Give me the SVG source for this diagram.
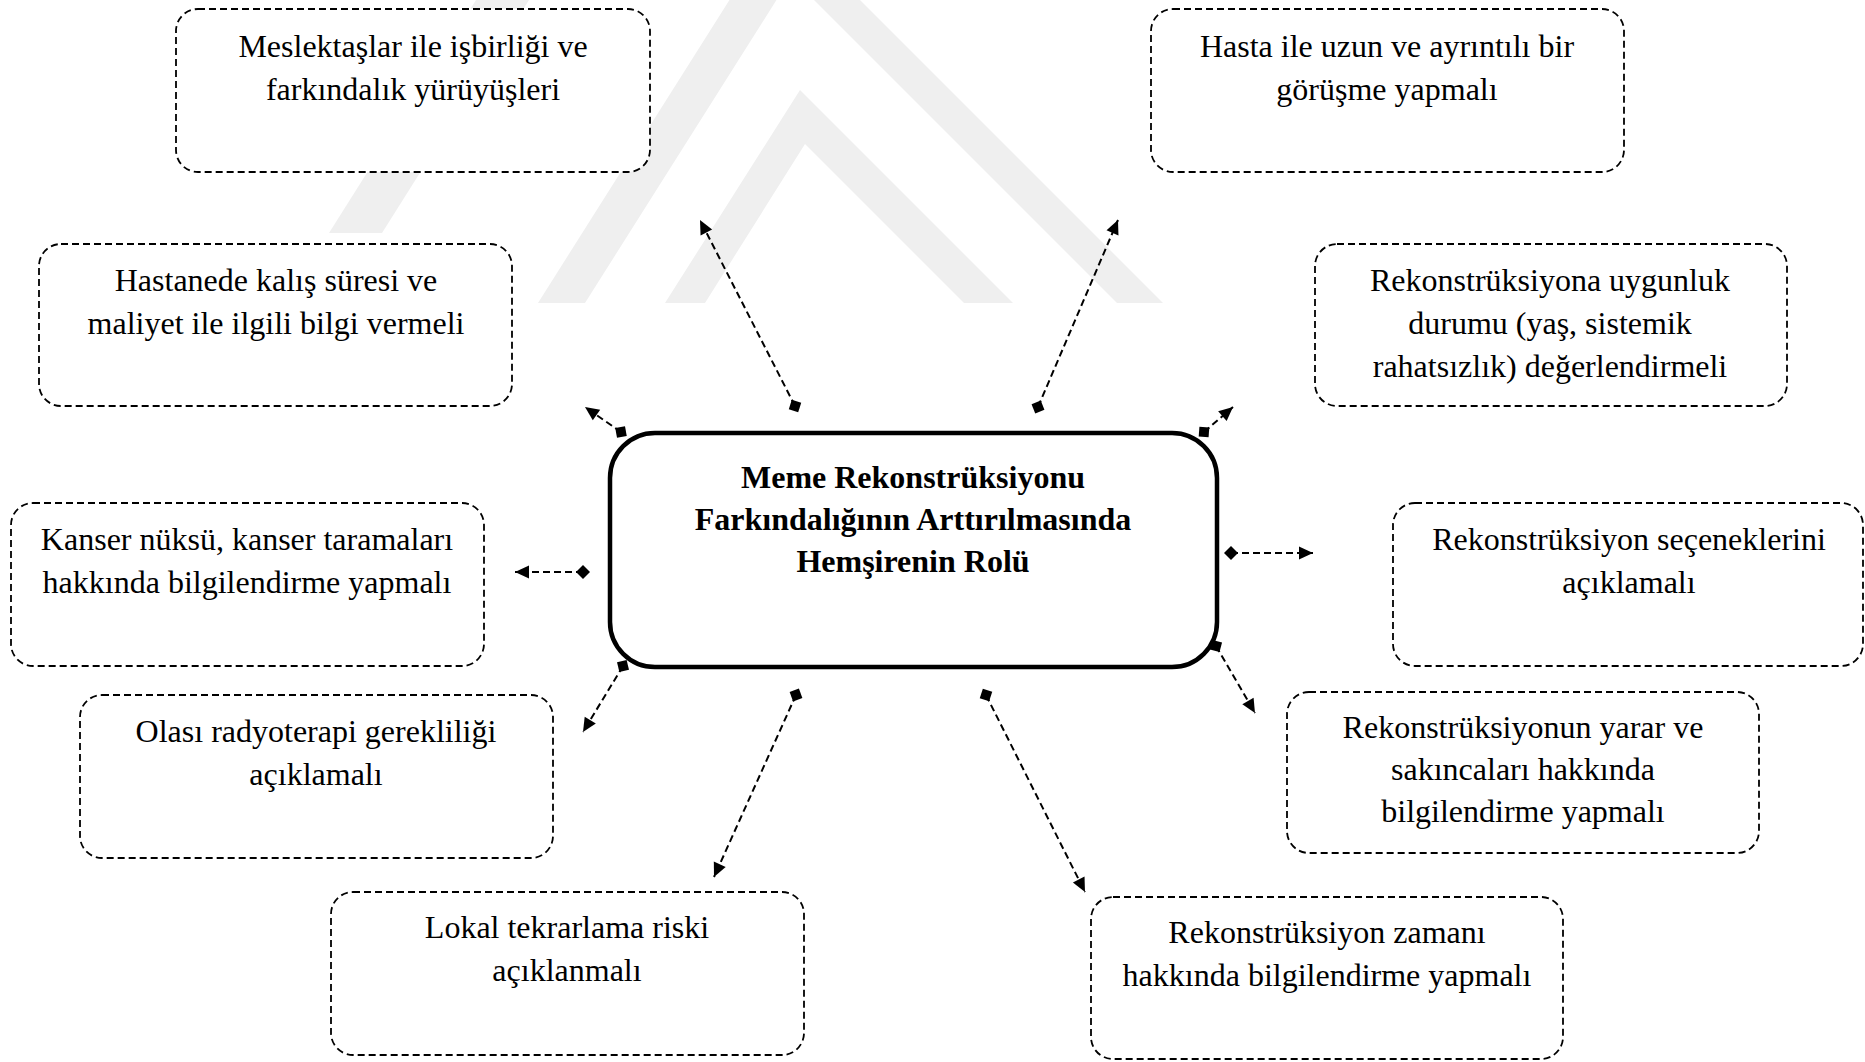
<svg xmlns="http://www.w3.org/2000/svg" width="1865" height="1062" viewBox="0 0 1865 1062">
  <defs>
    <style>
      .box { fill: #ffffff; stroke: #000000; stroke-width: 1.8; stroke-dasharray: 7 4; }
      .main { fill: #ffffff; stroke: #000000; stroke-width: 4.5; }
      .txt { font-family: "Liberation Serif", "Times New Roman", serif; font-size: 32px; fill: #000000; text-anchor: middle; }
      .ttl { font-family: "Liberation Serif", "Times New Roman", serif; font-size: 32px; font-weight: bold; fill: #000000; text-anchor: middle; }
      .con { fill: none; stroke: #000000; stroke-width: 2; stroke-dasharray: 7 4; marker-start: url(#dia); marker-end: url(#arr); }
      .wm { fill: #efefef; }
    </style>
    <marker id="dia" markerUnits="userSpaceOnUse" markerWidth="16" markerHeight="16" viewBox="-8 -8 16 16" refX="0" refY="0" orient="auto">
      <path d="M-7,0 L0,-7 L7,0 L0,7 Z" fill="#000000"/>
    </marker>
    <marker id="arr" markerUnits="userSpaceOnUse" markerWidth="16" markerHeight="16" viewBox="-15 -8 16 16" refX="0" refY="0" orient="auto">
      <path d="M-14,-6.5 L0,0 L-14,6.5 Z" fill="#000000"/>
    </marker>
  </defs>
  <rect x="0" y="0" width="1865" height="1062" fill="#ffffff"/>

  <g id="watermark">
    <polygon class="wm" points="329,233 382,233 529,0 476,0"/>
    <polygon class="wm" points="538,303 780,-80 1163,303 1117,303 791,-23 585,303"/>
    <polygon class="wm" points="665,303 800,90 1013,303 964,303 805,144 705,303"/>
  </g>

  <g id="connectors">
    <line class="con" x1="795" y1="406" x2="700" y2="220"/>
    <line class="con" x1="1038" y1="407" x2="1118" y2="220"/>
    <line class="con" x1="621" y1="432" x2="585" y2="407"/>
    <line class="con" x1="1204" y1="432" x2="1233" y2="407"/>
    <line class="con" x1="583" y1="572" x2="515" y2="572"/>
    <line class="con" x1="1231" y1="553" x2="1313" y2="553"/>
    <line class="con" x1="623" y1="666" x2="583" y2="732"/>
    <line class="con" x1="1216" y1="646" x2="1255" y2="713"/>
    <line class="con" x1="796" y1="695" x2="714" y2="877"/>
    <line class="con" x1="986" y1="695" x2="1085" y2="892"/>
  </g>

  <g id="center">
    <rect class="main" x="610" y="433" width="607" height="234" rx="45" ry="45"/>
    <text class="ttl" x="913" y="488">Meme Rekonstrüksiyonu</text>
    <text class="ttl" x="913" y="530">Farkındalığının Arttırılmasında</text>
    <text class="ttl" x="913" y="572">Hemşirenin Rolü</text>
  </g>

  <g id="n1">
    <rect class="box" x="176" y="9" width="474" height="163" rx="22" ry="22"/>
    <text class="txt" x="413" y="57">Meslektaşlar ile işbirliği ve</text>
    <text class="txt" x="413" y="100">farkındalık yürüyüşleri</text>
  </g>
  <g id="n2">
    <rect class="box" x="1151" y="9" width="473" height="163" rx="22" ry="22"/>
    <text class="txt" x="1387" y="57">Hasta ile uzun ve ayrıntılı bir</text>
    <text class="txt" x="1387" y="100">görüşme yapmalı</text>
  </g>
  <g id="n3">
    <rect class="box" x="39" y="244" width="473" height="162" rx="22" ry="22"/>
    <text class="txt" x="276" y="291">Hastanede kalış süresi ve</text>
    <text class="txt" x="276" y="334">maliyet ile ilgili bilgi vermeli</text>
  </g>
  <g id="n4">
    <rect class="box" x="1315" y="244" width="472" height="162" rx="22" ry="22"/>
    <text class="txt" x="1550" y="291">Rekonstrüksiyona uygunluk</text>
    <text class="txt" x="1550" y="334">durumu (yaş, sistemik</text>
    <text class="txt" x="1550" y="377">rahatsızlık) değerlendirmeli</text>
  </g>
  <g id="n5">
    <rect class="box" x="11" y="503" width="473" height="163" rx="22" ry="22"/>
    <text class="txt" x="247" y="550">Kanser nüksü, kanser taramaları</text>
    <text class="txt" x="247" y="593">hakkında bilgilendirme yapmalı</text>
  </g>
  <g id="n6">
    <rect class="box" x="1393" y="503" width="470" height="163" rx="22" ry="22"/>
    <text class="txt" x="1629" y="550">Rekonstrüksiyon seçeneklerini</text>
    <text class="txt" x="1629" y="593">açıklamalı</text>
  </g>
  <g id="n7">
    <rect class="box" x="80" y="695" width="473" height="163" rx="22" ry="22"/>
    <text class="txt" x="316" y="742">Olası radyoterapi gerekliliği</text>
    <text class="txt" x="316" y="785">açıklamalı</text>
  </g>
  <g id="n8">
    <rect class="box" x="1287" y="692" width="472" height="161" rx="22" ry="22"/>
    <text class="txt" x="1523" y="738">Rekonstrüksiyonun yarar ve</text>
    <text class="txt" x="1523" y="780">sakıncaları hakkında</text>
    <text class="txt" x="1523" y="822">bilgilendirme yapmalı</text>
  </g>
  <g id="n9">
    <rect class="box" x="331" y="892" width="473" height="163" rx="22" ry="22"/>
    <text class="txt" x="567" y="938">Lokal tekrarlama riski</text>
    <text class="txt" x="567" y="981">açıklanmalı</text>
  </g>
  <g id="n10">
    <rect class="box" x="1091" y="897" width="472" height="162" rx="22" ry="22"/>
    <text class="txt" x="1327" y="943">Rekonstrüksiyon zamanı</text>
    <text class="txt" x="1327" y="986">hakkında bilgilendirme yapmalı</text>
  </g>
</svg>
